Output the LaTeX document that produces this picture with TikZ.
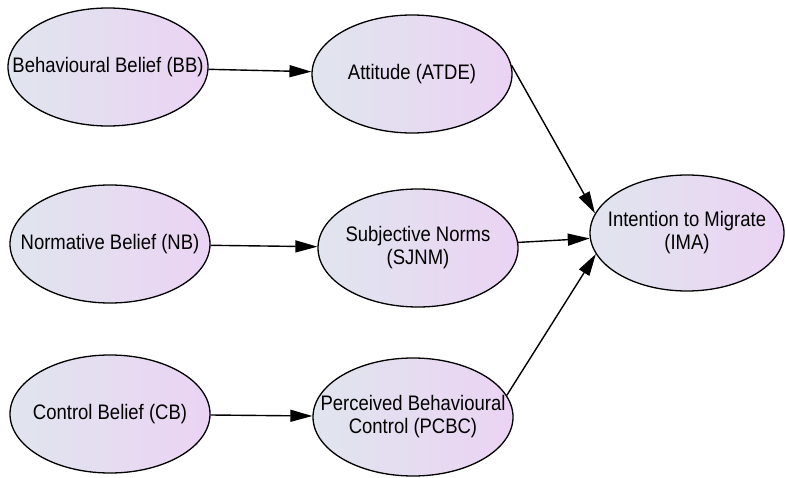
\documentclass[tikz,border=0pt]{standalone}
\usepackage{fontspec}
\setmainfont{Liberation Sans}[FakeStretch=0.88]
\usepackage{xcolor}
\usetikzlibrary{shapes, arrows.meta, positioning}
\definecolor{blgray}{RGB}{224,229,238}
\definecolor{pklilac}{RGB}{235,211,243}
\tikzset{
  belief/.style={ellipse, draw, line width=1.3pt, inner sep=0pt,
    minimum width=200pt, minimum height=118pt,
    left color=blgray, right color=pklilac},
  txt/.style={align=center, font=\fontsize{21}{23}\selectfont},
  link/.style={-{Triangle[length=22pt,width=12pt]}, line width=1.4pt}
}
\begin{document}
\begin{tikzpicture}[x=1pt, y=-1pt]
		\useasboundingbox (0,0) rectangle (786,478);

		% nodes - beliefs %
		\node[belief, label={[txt]center:Behavioural Belief (BB)}] (bb) at (108,67) {};
		\node[belief, label={[txt]center:Normative Belief (NB)}] (nb) at (110,244) {};
		\node[belief, label={[txt]center:Control Belief (CB)}] (cb) at (110,414) {};

		% nodes - constructs %
		\node[belief, label={[txt]center:Attitude (ATDE)}] (atde) at (412,74) {};
		\node[belief, label={[txt]center:Subjective Norms\\(SJNM)}] (sjnm) at (418,248) {};
		\node[belief, label={[txt]center:Perceived Behavioural\\Control (PCBC)}] (pcbc) at (413,417) {};
		\node[belief, minimum width=194pt, minimum height=116pt,
		      label={[txt]center:Intention to Migrate\\(IMA)}] (ima) at (687,233) {};

		% edges %
		\draw[link] (bb) -- (atde);
		\draw[link] (nb) -- (sjnm);
		\draw[link] (cb) -- (pcbc);
		\draw[link] (atde.5) -- (ima.168);
		\draw[link] (sjnm) -- (ima);
		\draw[link] (pcbc.13) -- (ima.-167);
\end{tikzpicture}
\end{document}
